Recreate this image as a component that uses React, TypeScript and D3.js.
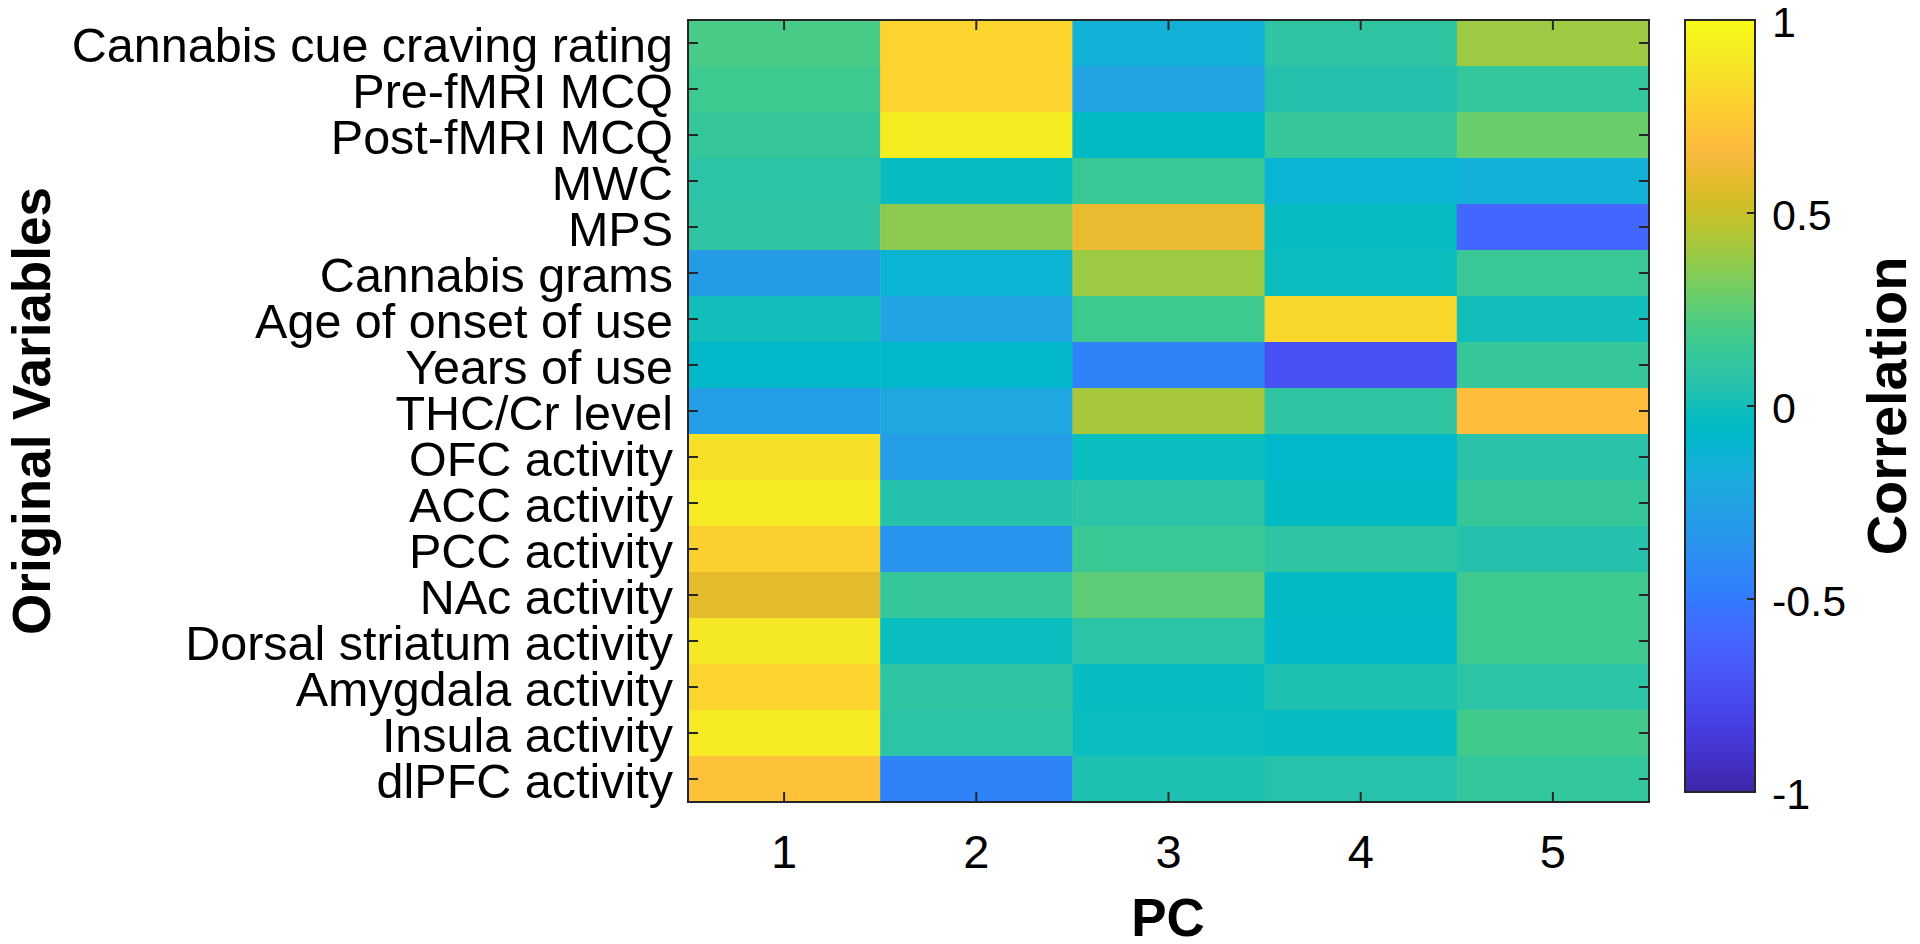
import React from 'react';
import * as d3 from 'd3';

const PCS = ['1', '2', '3', '4', '5'];
const VARIABLES = [
  'Cannabis cue craving rating',
  'Pre-fMRI MCQ',
  'Post-fMRI MCQ',
  'MWC',
  'MPS',
  'Cannabis grams',
  'Age of onset of use',
  'Years of use',
  'THC/Cr level',
  'OFC activity',
  'ACC activity',
  'PCC activity',
  'NAc activity',
  'Dorsal striatum activity',
  'Amygdala activity',
  'Insula activity',
  'dlPFC activity',
];
// correlation of each original variable with each PC (one array per PC)
const PC1 = [0.2, 0.17, 0.13, 0.08, 0.1, -0.3, 0.0, -0.08, -0.28, 0.86, 0.91, 0.78, 0.58, 0.9, 0.8, 0.91, 0.7];
const PC2 = [0.8, 0.8, 0.92, -0.03, 0.36, -0.12, -0.25, -0.08, -0.22, -0.28, 0.05, -0.35, 0.13, -0.02, 0.1, 0.08, -0.45];
const PC3 = [-0.15, -0.25, -0.05, 0.15, 0.6, 0.4, 0.17, -0.45, 0.42, -0.02, 0.08, 0.15, 0.25, 0.08, -0.03, -0.02, 0.03];
const PC4 = [0.1, 0.05, 0.13, -0.12, -0.03, -0.02, 0.82, -0.72, 0.1, -0.08, -0.05, 0.1, -0.05, -0.07, 0.03, -0.03, 0.06];
const PC5 = [0.4, 0.12, 0.28, -0.15, -0.6, 0.15, 0.0, 0.13, 0.68, 0.07, 0.13, 0.05, 0.17, 0.17, 0.08, 0.18, 0.12];
const SERIES = [PC1, PC2, PC3, PC4, PC5];
const CBAR_TICKS = [-1, -0.5, 0, 0.5, 1];

// MATLAB parula colormap (64 entries)
const PARULA = [
  [0.2422, 0.1504, 0.6603], [0.2504, 0.165, 0.7076], [0.2578, 0.1818, 0.7511], [0.2647, 0.1978, 0.7952],
  [0.2706, 0.2147, 0.8364], [0.2751, 0.2342, 0.871], [0.2783, 0.2559, 0.8991], [0.2803, 0.2782, 0.9221],
  [0.2813, 0.3006, 0.9414], [0.281, 0.3228, 0.9579], [0.2795, 0.3447, 0.9717], [0.276, 0.3667, 0.9829],
  [0.2699, 0.3892, 0.9906], [0.2602, 0.4123, 0.9952], [0.244, 0.4358, 0.9988], [0.2206, 0.4603, 0.9973],
  [0.1963, 0.4847, 0.9892], [0.1834, 0.5074, 0.9798], [0.1786, 0.5289, 0.9682], [0.1764, 0.5499, 0.952],
  [0.1687, 0.5703, 0.9359], [0.154, 0.5902, 0.9218], [0.146, 0.6091, 0.9079], [0.138, 0.6276, 0.8973],
  [0.1248, 0.6459, 0.8883], [0.1113, 0.6635, 0.8763], [0.0952, 0.6798, 0.8598], [0.0689, 0.6948, 0.8394],
  [0.0297, 0.7082, 0.8163], [0.0036, 0.7203, 0.7917], [0.0067, 0.7312, 0.766], [0.0433, 0.7411, 0.7394],
  [0.0964, 0.75, 0.712], [0.1408, 0.7584, 0.6842], [0.1717, 0.767, 0.6554], [0.1938, 0.7758, 0.6251],
  [0.2161, 0.7843, 0.5923], [0.247, 0.7918, 0.5567], [0.2906, 0.7973, 0.5188], [0.3406, 0.8008, 0.4789],
  [0.3909, 0.8029, 0.4354], [0.4456, 0.8024, 0.3909], [0.5044, 0.7993, 0.348], [0.5616, 0.7942, 0.3045],
  [0.6174, 0.7876, 0.2612], [0.672, 0.7793, 0.2227], [0.7242, 0.7698, 0.191], [0.7738, 0.7598, 0.1646],
  [0.8203, 0.7498, 0.1535], [0.8634, 0.7406, 0.1596], [0.9035, 0.733, 0.1774], [0.9393, 0.7288, 0.21],
  [0.9728, 0.7298, 0.2394], [0.9956, 0.7434, 0.2371], [0.997, 0.7659, 0.2199], [0.9952, 0.7893, 0.2028],
  [0.9892, 0.8136, 0.1885], [0.9786, 0.8386, 0.1766], [0.9676, 0.8639, 0.1643], [0.961, 0.889, 0.1537],
  [0.9597, 0.9135, 0.1423], [0.9628, 0.9373, 0.1265], [0.9691, 0.9606, 0.1064], [0.9769, 0.9839, 0.0805],
].map(([r, g, b]) => d3.rgb(r * 255, g * 255, b * 255).formatHex());

const FONT = '"Liberation Sans", Arial, Helvetica, sans-serif';
const AX = '#262626';

export default function App() {
  const W = 1920, H = 944;
  const left = 688, right = 1649, top = 20, bottom = 802;
  const cbL = 1685, cbR = 1755, cbT = 20, cbB = 792;

  const x = d3.scaleBand().domain(PCS).range([left, right]);
  const y = d3.scaleBand().domain(VARIABLES).range([top, bottom]);
  const interp = d3.piecewise(d3.interpolateRgb, PARULA);
  const color = d3.scaleSequential(interp).domain([-1, 1]);
  const cy = d3.scaleLinear().domain([-1, 1]).range([cbB, cbT]);

  const cells = [];
  SERIES.forEach((vals, j) => {
    vals.forEach((v, i) => {
      cells.push({ pc: PCS[j], variable: VARIABLES[i], v });
    });
  });

  const tickLen = 10;

  return (
    <svg width={W} height={H} style={{ position: 'absolute', left: 0, top: 0, background: '#fff' }}
      fontFamily={FONT}>
      <defs>
        <linearGradient id="parula" x1="0" y1="1" x2="0" y2="0">
          {PARULA.map((c, i) => (
            <stop key={i} offset={i / (PARULA.length - 1)} stopColor={c} />
          ))}
        </linearGradient>
      </defs>
      <rect x={0} y={0} width={W} height={H} fill="#fff" />
      {cells.map((c, k) => (
        <rect key={k} x={x(c.pc)} y={y(c.variable)} width={x.bandwidth() + 0.5}
          height={y.bandwidth() + 0.5} fill={color(c.v)} />
      ))}
      {/* axes box */}
      <rect x={left} y={top} width={right - left} height={bottom - top} fill="none" stroke={AX} strokeWidth={2} />
      {PCS.map((p) => {
        const cx = x(p) + x.bandwidth() / 2;
        return (
          <g key={p}>
            <line x1={cx} x2={cx} y1={bottom} y2={bottom - tickLen} stroke={AX} strokeWidth={2} />
            <line x1={cx} x2={cx} y1={top} y2={top + tickLen} stroke={AX} strokeWidth={2} />
            <text x={cx} y={868} textAnchor="middle" fontSize={47} fill="#000">{p}</text>
          </g>
        );
      })}
      {VARIABLES.map((v) => {
        const yy = y(v) + y.bandwidth() / 2;
        return (
          <g key={v}>
            <line x1={left} x2={left + tickLen} y1={yy} y2={yy} stroke={AX} strokeWidth={2} />
            <line x1={right} x2={right - tickLen} y1={yy} y2={yy} stroke={AX} strokeWidth={2} />
            <text x={673} y={yy + 2} dy="0.36em" textAnchor="end" fontSize={48.5} fill="#000">{v}</text>
          </g>
        );
      })}
      <text x={1168} y={936} textAnchor="middle" fontSize={53} fontWeight="bold" fill="#000">PC</text>
      <text transform={`translate(50, 411) rotate(-90)`} textAnchor="middle" fontSize={53}
        fontWeight="bold" fill="#000">Original Variables</text>

      {/* colorbar */}
      <rect x={cbL} y={cbT} width={cbR - cbL} height={cbB - cbT} fill="url(#parula)" stroke={AX} strokeWidth={2} />
      {CBAR_TICKS.map((t) => (
        <g key={t}>
          <line x1={cbR} x2={cbR - 8} y1={cy(t)} y2={cy(t)} stroke={AX} strokeWidth={2} />
          <text x={1772} y={cy(t) + 2} dy="0.36em" fontSize={43} fill="#000">{t}</text>
        </g>
      ))}
      <text transform={`translate(1906, 406) rotate(-90)`} textAnchor="middle" fontSize={56}
        fontWeight="bold" fill="#000">Correlation</text>
    </svg>
  );
}
